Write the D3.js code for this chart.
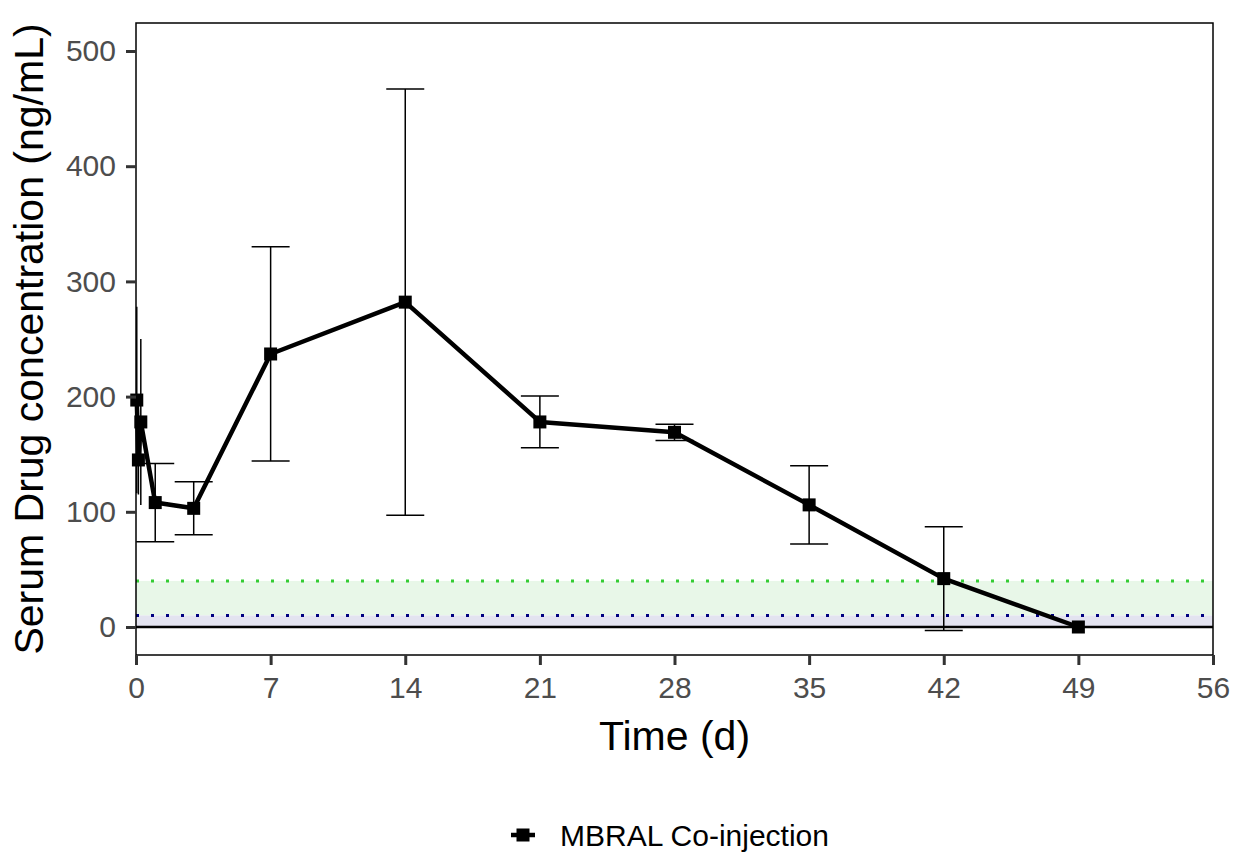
<!DOCTYPE html>
<html>
<head>
<meta charset="utf-8">
<script src="https://cdn.jsdelivr.net/npm/d3@7"></script>
<style>
  body { margin: 0; background: #fff; }
  text { font-family: "Liberation Sans", Arial, sans-serif; }
</style>
</head>
<body>
<script>
// data
var times  = [0.04, 0.125, 0.25, 1, 3, 7, 14, 21, 28, 35, 42, 49];
var means  = [197, 145, 178, 108, 103, 237, 282, 178, 169, 106, 42, 0];
var errs   = [81, 30, 72, 34, 23, 93, 185, 22.5, 7, 34, 45, 0];
var capped = [false, false, false, true, true, true, true, true, true, true, true, true];
var xTicks = [0, 7, 14, 21, 28, 35, 42, 49, 56];
var yTicks = [0, 100, 200, 300, 400, 500];
var bandLow  = [0, 10];   // blue band
var bandHigh = [10, 40];  // green band

var width = 1236,
    height = 855;

var svg = d3.select("body").append("svg")
    .attr("width", width)
    .attr("height", height);

var pLeft = 136, pRight = 1213, pTop = 23, pBottom = 655;

var x = d3.scaleLinear().domain([0, 56]).range([pLeft, pRight]);
var y = d3.scaleLinear().domain([0, 500]).range([627, 51]);

// bands
svg.append("rect")
    .attr("x", pLeft).attr("width", pRight - pLeft)
    .attr("y", y(bandHigh[1])).attr("height", y(bandHigh[0]) - y(bandHigh[1]))
    .attr("fill", "#e8f7e8");
svg.append("rect")
    .attr("x", pLeft).attr("width", pRight - pLeft)
    .attr("y", y(bandLow[1])).attr("height", y(bandLow[0]) - y(bandLow[1]))
    .attr("fill", "#e3e3f0");

svg.append("line")
    .attr("x1", pLeft).attr("x2", pRight)
    .attr("y1", y(bandHigh[1])).attr("y2", y(bandHigh[1]))
    .attr("stroke", "#33cc33").attr("stroke-width", 3)
    .attr("stroke-dasharray", "3,12");
svg.append("line")
    .attr("x1", pLeft).attr("x2", pRight)
    .attr("y1", y(bandLow[1])).attr("y2", y(bandLow[1]))
    .attr("stroke", "#000080").attr("stroke-width", 3)
    .attr("stroke-dasharray", "3,12");
svg.append("line")
    .attr("x1", pLeft).attr("x2", pRight)
    .attr("y1", y(0)).attr("y2", y(0))
    .attr("stroke", "#000").attr("stroke-width", 2.5);

var pts = times.map(function(t, i) { return {t: t, m: means[i], e: errs[i], c: capped[i]}; });

// error bars
var eb = svg.append("g").selectAll("g")
    .data(pts.filter(function(d) { return d.e > 0; }))
    .enter().append("g");
eb.append("line")
    .attr("x1", function(d) { return x(d.t); })
    .attr("x2", function(d) { return x(d.t); })
    .attr("y1", function(d) { return y(d.m + d.e); })
    .attr("y2", function(d) { return y(d.m - d.e); })
    .attr("stroke", "#000").attr("stroke-width", 1.5);
eb.filter(function(d) { return d.c; }).selectAll(".cap")
    .data(function(d) { return [d.m + d.e, d.m - d.e].map(function(v) { return {t: d.t, v: v}; }); })
    .enter().append("line")
    .attr("x1", function(d) { return x(d.t) - 19; })
    .attr("x2", function(d) { return x(d.t) + 19; })
    .attr("y1", function(d) { return y(d.v); })
    .attr("y2", function(d) { return y(d.v); })
    .attr("stroke", "#000").attr("stroke-width", 1.5);

// mean line
var line = d3.line()
    .x(function(d) { return x(d.t); })
    .y(function(d) { return y(d.m); });
svg.append("path")
    .datum(pts)
    .attr("d", line)
    .attr("fill", "none")
    .attr("stroke", "#000")
    .attr("stroke-width", 4.5)
    .attr("stroke-linejoin", "round");

svg.append("g").selectAll("rect")
    .data(pts)
    .enter().append("rect")
    .attr("x", function(d) { return x(d.t) - 6.5; })
    .attr("y", function(d) { return y(d.m) - 6.5; })
    .attr("width", 13).attr("height", 13)
    .attr("fill", "#000");

// panel border
svg.append("rect")
    .attr("x", pLeft).attr("y", pTop)
    .attr("width", pRight - pLeft).attr("height", pBottom - pTop)
    .attr("fill", "none").attr("stroke", "#000").attr("stroke-width", 1.5);

// axes
var xAxis = svg.append("g")
    .attr("transform", "translate(0," + pBottom + ")")
    .call(d3.axisBottom(x).tickValues(xTicks).tickSize(10).tickPadding(12));
var yAxis = svg.append("g")
    .attr("transform", "translate(" + pLeft + ",0)")
    .call(d3.axisLeft(y).tickValues(yTicks).tickSize(10).tickPadding(10));

[xAxis, yAxis].forEach(function(a) {
  a.select(".domain").remove();
  a.selectAll(".tick line").attr("stroke", "#333").attr("stroke-width", 3);
  a.selectAll(".tick text")
      .attr("fill", "#4d4d4d")
      .style("font-size", "30px")
      .style("font-family", "Liberation Sans, Arial, sans-serif");
});

// axis titles
svg.append("text")
    .attr("x", (pLeft + pRight) / 2).attr("y", 750)
    .attr("text-anchor", "middle")
    .style("font-size", "41px")
    .text("Time (d)");
svg.append("text")
    .attr("transform", "translate(43," + ((pTop + pBottom) / 2) + ") rotate(-90)")
    .attr("text-anchor", "middle")
    .style("font-size", "41px")
    .text("Serum Drug concentration (ng/mL)");

// legend
var lg = svg.append("g").attr("transform", "translate(523,835)");
lg.append("line").attr("x1", -12).attr("x2", 12)
    .attr("stroke", "#000").attr("stroke-width", 4.5);
lg.append("rect").attr("x", -6.5).attr("y", -6.5).attr("width", 13).attr("height", 13)
    .attr("fill", "#000");
lg.append("text").attr("x", 37).attr("y", 11)
    .style("font-size", "30px")
    .text("MBRAL Co-injection");
</script>
</body>
</html>
